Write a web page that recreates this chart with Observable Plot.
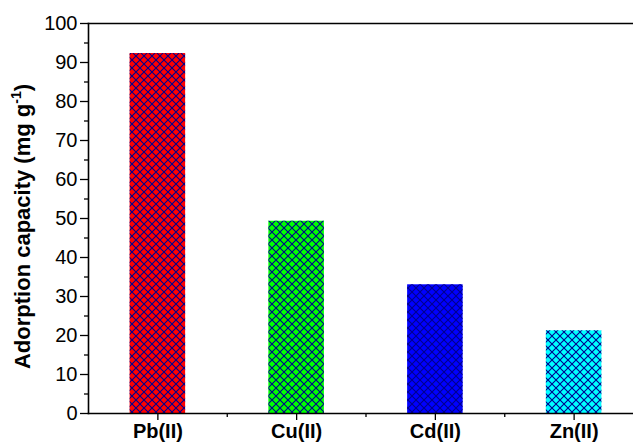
<!DOCTYPE html>
<html>
<head>
<meta charset="utf-8">
<script src="https://cdn.jsdelivr.net/npm/d3@7"></script>
<script src="https://cdn.jsdelivr.net/npm/@observablehq/plot@0.6"></script>
<style>
  html, body { margin: 0; padding: 0; background: #fff; }
</style>
</head>
<body>
<div id="chart"></div>
<script>
const categories = ["Pb(II)", "Cu(II)", "Cd(II)", "Zn(II)"];
const capacities = [92.3, 49.3, 33.0, 21.2];
const barColors = ["#ff0000", "#00ff00", "#0000ff", "#00ffff"];
const yMajorTicks = [0, 10, 20, 30, 40, 50, 60, 70, 80, 90, 100];
const yMinorTicks = [5, 15, 25, 35, 45, 55, 65, 75, 85, 95];
const yLabel = "Adorption capacity (mg g-1)";

const data = categories.map((c, i) => ({pos: i + 1, cat: c, val: capacities[i], color: barColors[i]}));
const xMajor = data.map(d => d.pos);
const xMinor = xMajor.slice(0, -1).map(p => p + 0.5);
const halfBar = 0.2;

const font = "'Liberation Sans', Arial, Helvetica, sans-serif";

const svg = Plot.plot({
  width: 633,
  height: 444,
  marginLeft: 88,
  marginTop: 23,
  marginBottom: 31,
  marginRight: 0,
  style: {fontFamily: font, fontSize: "20px", background: "#fff", color: "#000", overflow: "hidden"},
  x: {type: "linear", domain: [0.5, 4.5], range: [88, 643]},
  y: {domain: [0, 100], range: [413, 23]},
  color: {type: "identity"},
  marks: [
    Plot.rectY(data, {x1: d => d.pos - halfBar, x2: d => d.pos + halfBar, y1: 0, y2: "val", fill: "color"}),
    Plot.rectY(data, {x1: d => d.pos - halfBar, x2: d => d.pos + halfBar, y1: 0, y2: "val", fill: "url(#xhatch)"}),
    Plot.axisY({ticks: yMajorTicks, tickSize: 8, tickPadding: 3, tickFormat: d => String(d),
      label: yLabel, labelAnchor: "center", labelArrow: "none", labelOffset: 74, fontSize: 20, strokeWidth: 1.3}),
    Plot.axisY({ticks: yMinorTicks, tickSize: 4, tickFormat: () => "", label: null, strokeWidth: 1.3}),
    Plot.axisX({ticks: xMajor, tickSize: 7, tickPadding: 3, tickFormat: p => categories[p - 1],
      label: null, fontWeight: "bold", fontSize: 20, strokeWidth: 1.3}),
    Plot.axisX({ticks: xMinor, tickSize: 4, tickFormat: () => "", label: null, strokeWidth: 1.3}),
    Plot.frame({anchor: "left", strokeWidth: 1.6}),
    Plot.frame({anchor: "top", strokeWidth: 1.6}),
    Plot.frame({anchor: "bottom", strokeWidth: 1.6})
  ]
});

// hatch pattern definition
const ns = "http://www.w3.org/2000/svg";
const defs = document.createElementNS(ns, "defs");
const pat = document.createElementNS(ns, "pattern");
pat.setAttribute("id", "xhatch");
pat.setAttribute("patternUnits", "userSpaceOnUse");
pat.setAttribute("width", "8");
pat.setAttribute("height", "8");
const p = document.createElementNS(ns, "path");
p.setAttribute("d", "M-1,-1L9,9M9,-1L-1,9");
p.setAttribute("stroke", "#00008c");
p.setAttribute("stroke-width", "1.1");
p.setAttribute("fill", "none");
pat.appendChild(p);
defs.appendChild(pat);
svg.insertBefore(defs, svg.firstChild);

// style y label with bold + superscript
svg.querySelectorAll("text").forEach(t => {
  if (t.textContent === yLabel) {
    t.setAttribute("font-weight", "bold");
    t.setAttribute("font-size", "22");
    t.setAttribute("dx", "-8");
    t.textContent = "";
    const a = document.createElementNS(ns, "tspan");
    a.textContent = "Adorption capacity (mg g";
    const s = document.createElementNS(ns, "tspan");
    s.textContent = "-1";
    s.setAttribute("font-size", "14");
    s.setAttribute("dy", "-9");
    const c = document.createElementNS(ns, "tspan");
    c.textContent = ")";
    c.setAttribute("dy", "9");
    t.appendChild(a); t.appendChild(s); t.appendChild(c);
  }
});

document.getElementById("chart").appendChild(svg);
</script>
</body>
</html>
